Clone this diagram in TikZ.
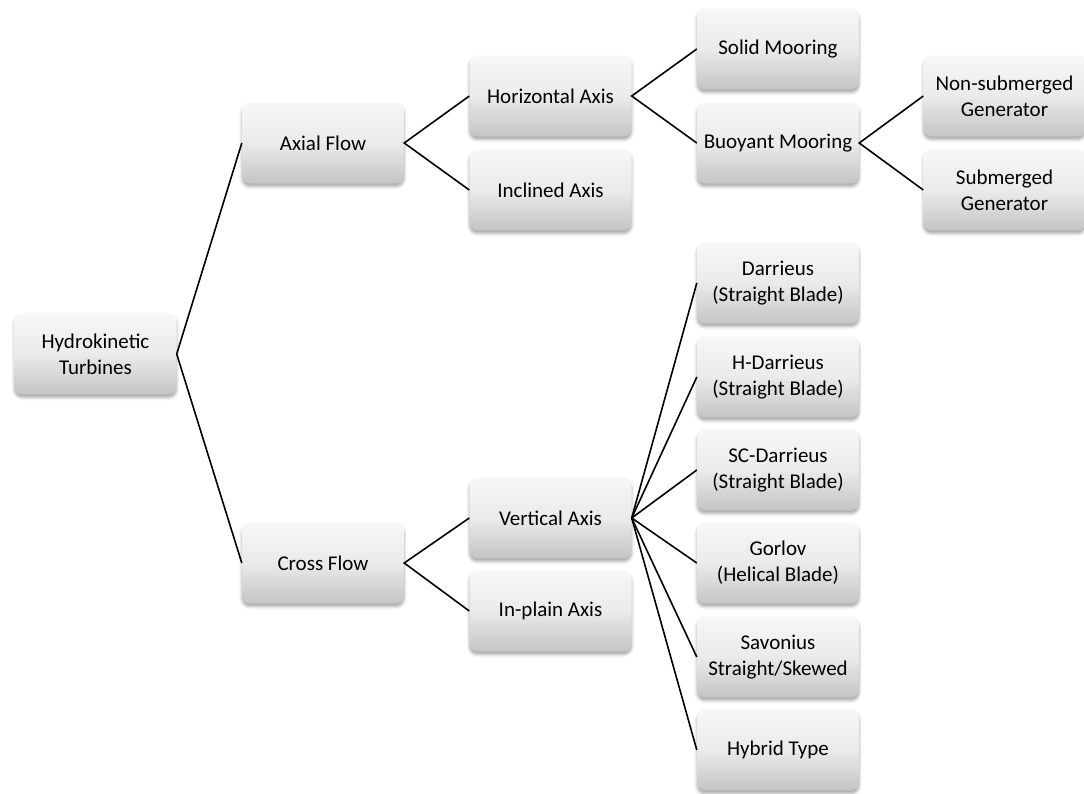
\documentclass[tikz,border=0pt]{standalone}
\usepackage{fontspec}
\setmainfont{Carlito}
\usetikzlibrary{shadows.blur}
\tikzset{
  tbox/.style={rectangle, rounded corners=8pt, minimum width=162pt, minimum height=81pt,
    inner sep=2pt, align=center, font=\fontsize{21}{26}\selectfont,
    top color=white!97!black, bottom color=white!77!black, middle color=white!92!black,
    blur shadow={shadow xshift=0pt, shadow yshift=-3pt, shadow blur radius=3pt, shadow opacity=35}},
  conn/.style={draw=black, line width=1.6pt}
}
\begin{document}
\begin{tikzpicture}[x=1pt,y=-1pt]
\useasboundingbox (0,0) rectangle (1084,793);
\node[tbox] (ht) at (95.5,354) {Hydrokinetic\\Turbines};
\node[tbox] (af) at (323,143) {Axial Flow};
\node[tbox] (cf) at (323,563) {Cross Flow};
\node[tbox] (ha) at (550.5,96) {Horizontal Axis};
\node[tbox] (ia) at (550.5,190) {Inclined Axis};
\node[tbox] (va) at (550.5,518) {Vertical Axis};
\node[tbox] (ip) at (550.5,611) {In-plain Axis};
\node[tbox] (sm) at (778,49) {Solid Mooring};
\node[tbox] (bm) at (778,143) {Buoyant Mooring};
\node[tbox] (ns) at (1004.5,96) {Non-submerged\\Generator};
\node[tbox] (sg) at (1004.5,190) {Submerged\\Generator};
\node[tbox] (d1) at (778,283) {Darrieus\\(Straight Blade)};
\node[tbox] (d2) at (778,377) {H-Darrieus\\(Straight Blade)};
\node[tbox] (d3) at (778,470) {SC-Darrieus\\(Straight Blade)};
\node[tbox] (d4) at (778,563) {Gorlov\\(Helical Blade)};
\node[tbox] (d5) at (778,657) {Savonius\\Straight/Skewed};
\node[tbox] (d6) at (778,750) {Hybrid Type};
\draw[conn] (af.west) -- (ht.east) -- (cf.west);
\draw[conn] (ha.west) -- (af.east) -- (ia.west);
\draw[conn] (va.west) -- (cf.east) -- (ip.west);
\draw[conn] (sm.west) -- (ha.east) -- (bm.west);
\draw[conn] (ns.west) -- (bm.east) -- (sg.west);
\foreach \n in {d1,d2,d3,d4,d5,d6} \draw[conn] (va.east) -- (\n.west);
\end{tikzpicture}
\end{document}
